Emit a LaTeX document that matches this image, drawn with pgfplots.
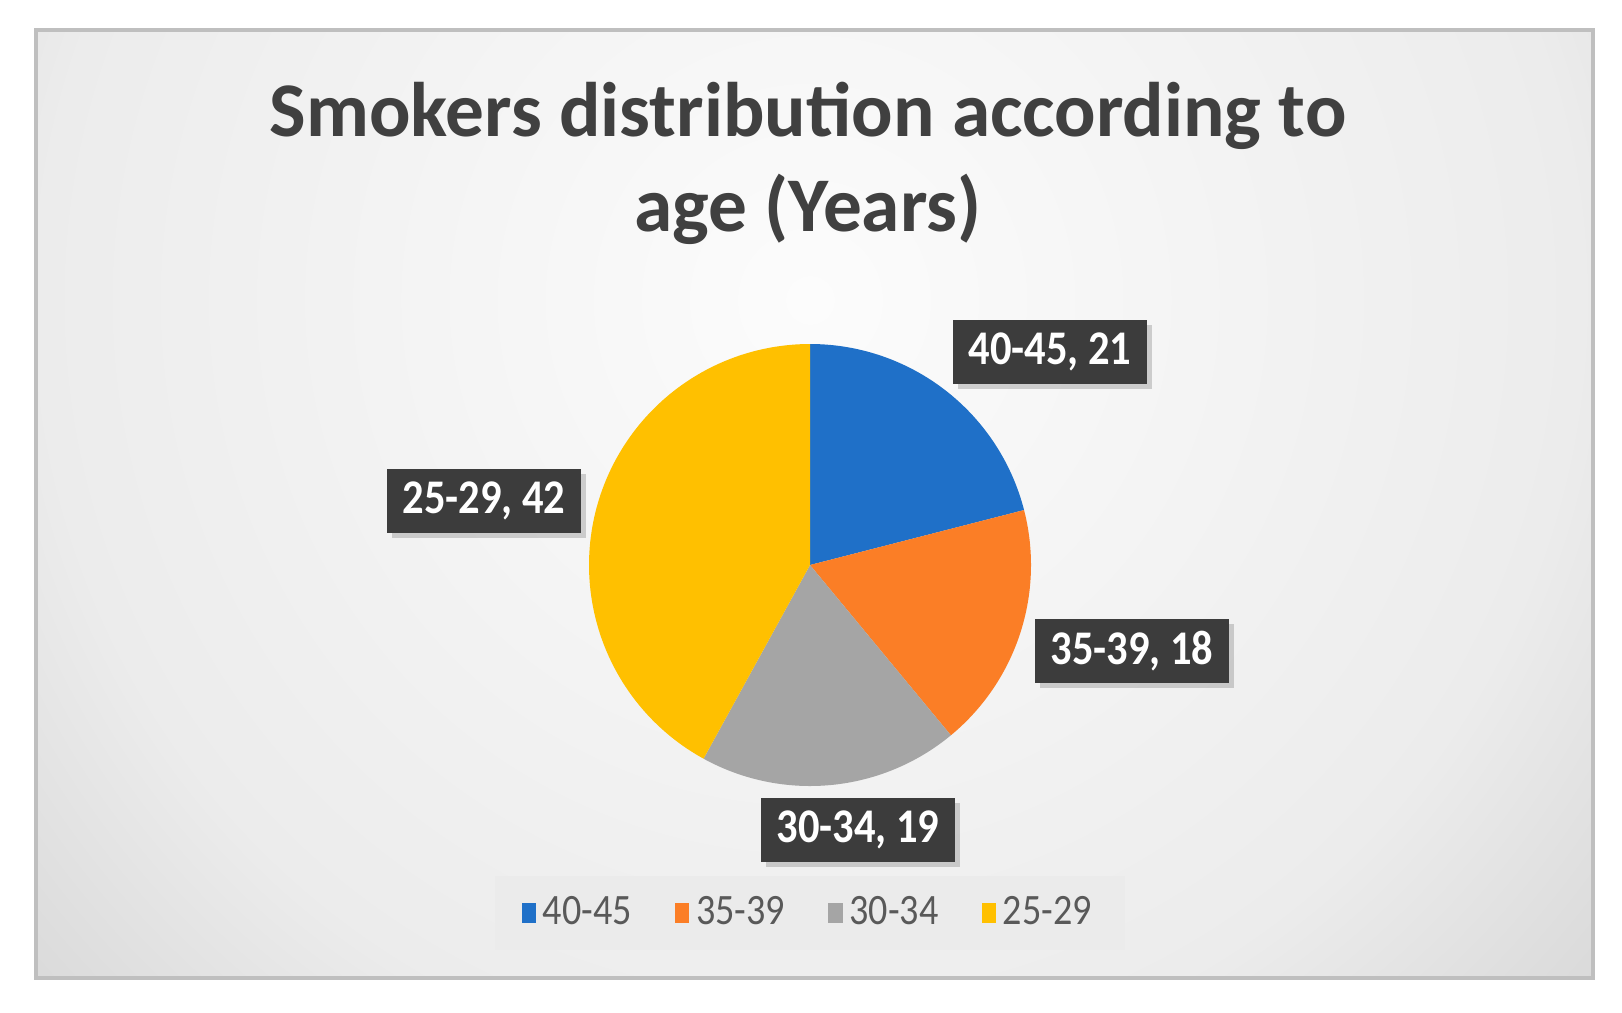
\documentclass[border=0pt]{standalone}
\usepackage{fontspec}
\setmainfont{Carlito}
\usepackage{graphicx}
\usepackage{pgfplots}
\usepackage{pgfplotstable}
\pgfplotsset{compat=1.18}
\usetikzlibrary{shadows}

\definecolor{slice0}{HTML}{1F70C8}
\definecolor{slice1}{HTML}{FB7E26}
\definecolor{slice2}{HTML}{A5A5A5}
\definecolor{slice3}{HTML}{FFC000}
\definecolor{titlegrey}{HTML}{404040}
\definecolor{boxdark}{HTML}{3C3C3C}
\definecolor{legtext}{HTML}{595959}
\definecolor{legbg}{HTML}{EBEBEB}
\definecolor{frame}{HTML}{BFBFBF}
\definecolor{bg0}{HTML}{FCFCFC}
\definecolor{bg1}{HTML}{ECECEC}
\definecolor{bg2}{HTML}{DDDDDD}
\definecolor{bg3}{HTML}{D6D6D6}
\pgfdeclareradialshading{bgshade}{\pgfpoint{0bp}{0bp}}{%
  color(0bp)=(bg0); color(17.5bp)=(bg1); color(22.5bp)=(bg2);
  color(25bp)=(bg3); color(50bp)=(bg3)}

% smokers by age group
\pgfplotstableread{
label value
40-45 21
35-39 18
30-34 19
25-29 42
}\piedata

\newcommand\cx{810}
\newcommand\cy{447}
\newcommand\rr{221}
\newcommand\sq[1]{\scalebox{0.88}[1]{#1}}

\begin{document}
\begin{tikzpicture}
\begin{axis}[
  x=0.3pt, y=0.3pt,
  xmin=0, xmax=1622, ymin=0, ymax=1012,
  axis lines=none, clip=false,
  legend columns=4,
  legend style={at={(0.4994,0.0978)}, anchor=center, draw=none, fill=legbg,
    font=\fontsize{13}{15}\selectfont, text=legtext,
    inner xsep=8pt, inner ysep=4pt,
    /tikz/every even column/.append style={column sep=11pt}},
  legend image code/.code={\fill[#1] (0pt,-3.1pt) rectangle (4.3pt,3.1pt);},
]
% page extent
\path[fill=white] (axis cs:0,0) rectangle (axis cs:1622,1012);
% chart area
\begin{scope}
  \clip (axis cs:36,34) rectangle (axis cs:1593,982);
  \shade[shading=bgshade] (axis cs:810,712) circle[radius=330pt];
\end{scope}
\draw[frame, line width=1.2pt] (axis cs:36,34) rectangle (axis cs:1593,982);

\node[text=titlegrey, align=center, font=\fontsize{23.2}{28.5}\selectfont\bfseries]
  at (axis cs:808,849) {Smokers distribution according to\\age (Years)};

\gdef\cumval{0}
\pgfplotsinvokeforeach{0,...,3}{
  \pgfplotstablegetelem{#1}{value}\of\piedata
  \pgfmathsetmacro\angA{90-3.6*\cumval}
  \pgfmathsetmacro\cumnew{\cumval+\pgfplotsretval}
  \global\let\cumval\cumnew
  \pgfmathsetmacro\angB{90-3.6*\cumval}
  \edef\doplot{\noexpand\addplot[draw=none, fill=slice#1, domain=\angB:\angA, samples=120]
    ({\cx+\rr*cos(x)},{\cy+\rr*sin(x)}) -- (axis cs:\cx,\cy) -- cycle;}
  \doplot
}
\legend{\sq{40-45},\sq{35-39},\sq{30-34},\sq{25-29}}

\tikzset{lab/.style={fill=boxdark, text=white, inner sep=0pt,
  minimum width=58pt, minimum height=19pt,
  font=\fontsize{14.5}{16}\selectfont\bfseries,
  drop shadow={shadow xshift=1.5pt, shadow yshift=-1.5pt, opacity=0.35}}}
\node[lab] at (axis cs:1050,660) {\sq{40-45, 21}};
\node[lab] at (axis cs:1132,361) {\sq{35-39, 18}};
\node[lab] at (axis cs:858,182) {\sq{30-34, 19}};
\node[lab] at (axis cs:484,511) {\sq{25-29, 42}};
\end{axis}
\end{tikzpicture}
\end{document}
